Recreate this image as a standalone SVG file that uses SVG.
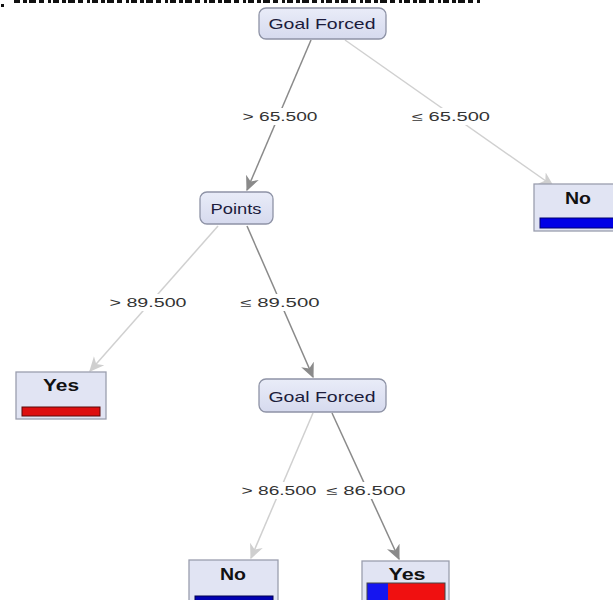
<svg xmlns="http://www.w3.org/2000/svg" width="613" height="600" viewBox="0 0 613 600">
<defs>
<linearGradient id="ng" x1="0" y1="0" x2="0" y2="1">
<stop offset="0" stop-color="#e9ecf8"/>
<stop offset="1" stop-color="#d6daee"/>
</linearGradient>
<marker id="ad" viewBox="0 0 12 12" refX="11" refY="6" markerWidth="15" markerHeight="15" markerUnits="userSpaceOnUse" orient="auto">
<path d="M0,0.5 L12,6 L0,11.5 L3.5,6 z" fill="#8a8a8a"/>
</marker>
<marker id="al" viewBox="0 0 12 12" refX="11" refY="6" markerWidth="15" markerHeight="15" markerUnits="userSpaceOnUse" orient="auto">
<path d="M0,0.5 L12,6 L0,11.5 L3.5,6 z" fill="#cfcfcf"/>
</marker>
</defs>
<style>
.node{fill:url(#ng);stroke:#8e93a6;stroke-width:1.3}
.leaf{fill:#e1e4f3;stroke:#9a9eae;stroke-width:1.3}
.nt{font-family:"Liberation Sans",Arial,sans-serif;font-size:15px;fill:#1c1c3c;text-anchor:middle}
.lt{font-family:"Liberation Sans",Arial,sans-serif;font-size:16px;font-weight:bold;fill:#111;text-anchor:middle}
.el{font-family:"Liberation Sans",Arial,sans-serif;font-size:12px;fill:#333;text-anchor:middle}
.bg{fill:#fff}
.ed{stroke:#8a8a8a;stroke-width:1.5;fill:none;marker-end:url(#ad)}
.eli{stroke:#d0d0d0;stroke-width:1.5;fill:none;marker-end:url(#al)}
</style>
<rect width="613" height="600" fill="#fff"/>
<line x1="14" y1="1.5" x2="482" y2="1.5" stroke="#111" stroke-width="3" stroke-dasharray="6 3 4 2 7 3 5 4 3 2"/>
<rect x="1" y="4" width="3" height="3" fill="#111"/>
<g id="connectors">
<line class="ed" x1="311" y1="40" x2="247" y2="190"/>
<line class="eli" x1="345" y1="40" x2="553" y2="186"/>
<line class="eli" x1="218" y1="226" x2="90" y2="371"/>
<line class="ed" x1="247" y1="226" x2="313" y2="377"/>
<line class="eli" x1="313" y1="413" x2="251" y2="558"/>
<line class="ed" x1="332" y1="413" x2="399" y2="559"/>
<rect class="bg" x="241" y="108" width="78" height="17"/>
<rect class="bg" x="411" y="108" width="80" height="17"/>
<rect class="bg" x="108" y="294" width="81" height="17"/>
<rect class="bg" x="239" y="294" width="82" height="17"/>
<rect class="bg" x="240" y="482" width="79" height="17"/>
<rect class="bg" x="325" y="482" width="82" height="17"/>
<text class="el" x="280" y="121" textLength="75" lengthAdjust="spacingAndGlyphs">&gt; 65.500</text>
<text class="el" x="451" y="121" textLength="78" lengthAdjust="spacingAndGlyphs">≤ 65.500</text>
<text class="el" x="148" y="307" textLength="77" lengthAdjust="spacingAndGlyphs">&gt; 89.500</text>
<text class="el" x="280" y="307" textLength="79" lengthAdjust="spacingAndGlyphs">≤ 89.500</text>
<text class="el" x="279" y="495" textLength="75" lengthAdjust="spacingAndGlyphs">&gt; 86.500</text>
<text class="el" x="366" y="495" textLength="79" lengthAdjust="spacingAndGlyphs">≤ 86.500</text>
</g>
<g id="root">
<rect class="node" x="259" y="8" width="127" height="31" rx="7"/>
<text class="nt" x="322" y="29" textLength="107" lengthAdjust="spacingAndGlyphs">Goal Forced</text>
</g>
<g id="points">
<rect class="node" x="200" y="192" width="73" height="32" rx="7"/>
<text class="nt" x="236" y="214" textLength="51" lengthAdjust="spacingAndGlyphs">Points</text>
</g>
<g id="no-right">
<rect class="leaf" x="534" y="184" width="85" height="47"/>
<text class="lt" x="578" y="204" textLength="26" lengthAdjust="spacingAndGlyphs">No</text>
<rect x="540" y="218" width="80" height="10" fill="#0000e6" stroke="#000070" stroke-width="1"/>
</g>
<g id="yes-left">
<rect class="leaf" x="16" y="372" width="90" height="47"/>
<text class="lt" x="61" y="391" textLength="36" lengthAdjust="spacingAndGlyphs">Yes</text>
<rect x="22" y="407" width="78" height="9" fill="#dd0f10" stroke="#5a0a0a" stroke-width="1"/>
</g>
<g id="goal-forced-2">
<rect class="node" x="259" y="379" width="127" height="33" rx="7"/>
<text class="nt" x="322" y="402" textLength="107" lengthAdjust="spacingAndGlyphs">Goal Forced</text>
</g>
<g id="no-bottom">
<rect class="leaf" x="189" y="560" width="89" height="45"/>
<text class="lt" x="233" y="580" textLength="26" lengthAdjust="spacingAndGlyphs">No</text>
<rect x="195" y="596" width="78" height="8" fill="#0000b0" stroke="#000050" stroke-width="1"/>
</g>
<g id="yes-bottom">
<rect class="leaf" x="362" y="561" width="87" height="45"/>
<text class="lt" x="407" y="580" textLength="37" lengthAdjust="spacingAndGlyphs">Yes</text>
<rect x="367" y="583" width="21" height="20" fill="#1515f0"/>
<rect x="388" y="583" width="57" height="20" fill="#f01010"/>
<rect x="367" y="583" width="78" height="20" fill="none" stroke="#444" stroke-width="1"/>
</g>
</svg>
